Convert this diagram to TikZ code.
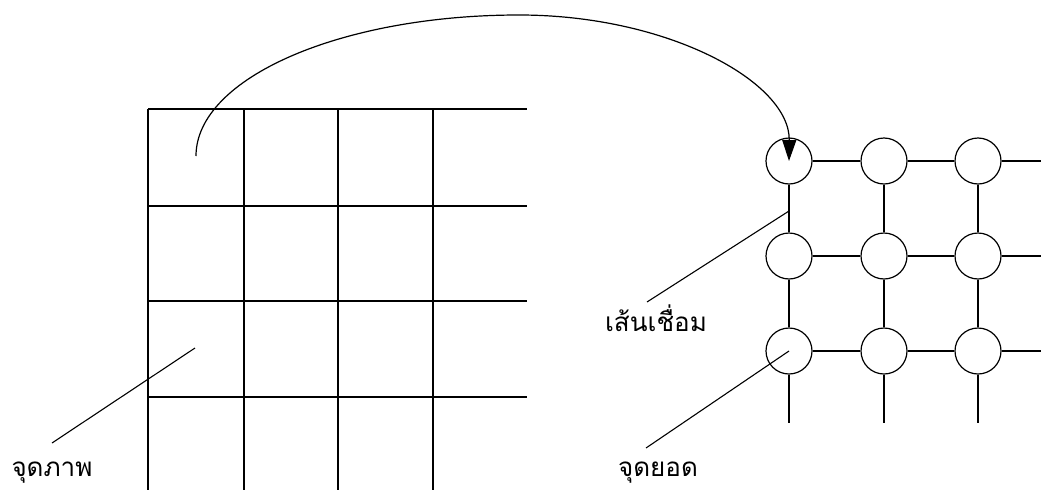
\documentclass[tikz,border=0pt]{standalone}
\usepackage{fontspec}
\newfontfamily\thaifont[Script=Thai]{Loma}
\usetikzlibrary{arrows.meta}
\begin{document}
\begin{tikzpicture}[x=1pt,y=-1pt,line width=1.2pt,
  vtx/.style={draw,circle,minimum size=46pt,inner sep=0pt},
  lbl/.style={font=\thaifont\fontsize{26}{30}\selectfont,anchor=base,inner sep=0pt},
  ptr/.style={line width=1.1pt}]
\useasboundingbox (0,0) rectangle (1041,490);
% left pixel grid
\foreach \x in {148,244,338,433} \draw (\x,109) -- (\x,490);
\foreach \y in {109,206,301,397} \draw (148,\y) -- (527,\y);
% right graph vertices
\foreach \i/\y in {1/161,2/256,3/351}
  \foreach \j/\x in {1/789,2/884,3/978}
    \node[vtx] (v\i\j) at (\x,\y) {};
\foreach \i/\y in {1/161,2/256,3/351}{
  \draw (v\i1) -- (v\i2);
  \draw (v\i2) -- (v\i3);
  \coordinate (r\i) at (1041,\y);
  \draw (v\i3) -- (r\i);
}
\foreach \j/\x in {1/789,2/884,3/978}{
  \draw (v1\j) -- (v2\j);
  \draw (v2\j) -- (v3\j);
  \coordinate (b\j) at (\x,423);
  \draw (v3\j) -- (b\j);
}
% curved arrow
\coordinate (cs) at (196,156);
\coordinate (ctop) at (519,15);
\draw[-{Triangle[length=21pt,width=14pt]}] (cs) .. controls (196,78) and (341,15) .. (ctop)
  .. controls (668,15) and (790,82) .. (v11.center);
% labels
\node[lbl] (lp) at (52,476) {จุดภาพ};
\node[lbl] (le) at (656,331) {เส้นเชื่อม};
\node[lbl] (lv) at (658,476) {จุดยอด};
\coordinate (p1) at (52,443);
\coordinate (p1e) at (195,348);
\draw[ptr] (p1) -- (p1e);
\coordinate (p2) at (647,302);
\coordinate (p2e) at (789,211);
\draw[ptr] (p2) -- (p2e);
\coordinate (p3) at (646,448);
\draw[ptr] (p3) -- (v31.center);
\end{tikzpicture}
\end{document}
